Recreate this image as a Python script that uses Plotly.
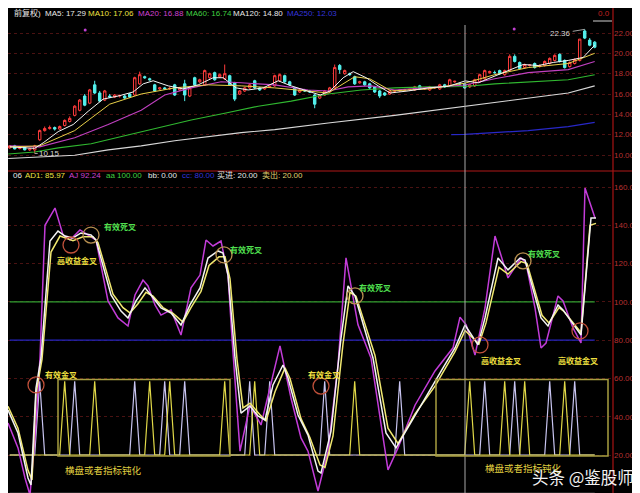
import plotly.graph_objects as go

# ---------------- price panel (bar index 0..117) ----------------
opens = [10.7, 10.9, 10.65, 10.8, 10.5, 10.5, 11.5, 12.4, 12.6, 12.7,
         12.55, 12.9, 13.3, 13.9, 14.4, 15.8, 15.1, 16.9, 16.1, 15.4,
         15.8, 15.7, 15.8, 15.8, 16.0, 15.9, 17.0, 17.7, 17.5, 16.9,
         16.5, 16.6, 16.5, 16.9, 16.4, 17.0, 15.8, 17.6, 17.2, 16.9,
         17.6, 18.1, 17.7, 17.5, 17.8, 17.1, 16.0, 16.3, 16.6, 17.3,
         16.6, 16.5, 16.7, 16.8, 17.3, 17.8, 17.2, 16.6, 16.2, 16.35,
         16.3, 15.9, 15.6, 15.9, 16.2, 16.6, 18.8, 18.0, 18.0, 17.7,
         17.1, 17.2, 17.0, 16.7, 16.3, 16.1, 16.0, 16.3, 16.3, 16.4,
         16.4, 16.4, 16.8, 16.5, 16.4, 16.6, 16.5, 16.9, 16.8, 17.2,
         17.0, 17.0, 16.7, 16.8, 17.2, 17.5, 18.1, 18.1, 18.3, 17.9,
         18.3, 19.7, 19.1, 18.6, 18.8, 19.0, 18.7, 18.8, 19.0, 19.3,
         19.9, 19.3, 18.7, 19.0, 19.3, 22.2, 21.3, 21.1]
highs = [10.95, 11.0, 10.8, 10.85, 10.7, 11.0, 12.5, 12.8, 12.9, 12.8,
         12.9, 13.5, 13.8, 14.9, 15.5, 16.0, 16.5, 17.3, 16.3, 16.4,
         16.0, 16.0, 15.95, 15.9, 16.1, 17.7, 18.2, 17.8, 17.6, 17.0,
         16.7, 16.7, 16.7, 17.0, 16.7, 17.4, 16.7, 17.7, 17.5, 18.4,
         18.1, 18.2, 18.0, 18.9, 17.9, 17.2, 16.4, 16.7, 17.0, 17.4,
         16.7, 16.7, 16.8, 17.9, 18.0, 17.9, 17.3, 16.7, 16.5, 16.5,
         16.4, 16.0, 16.0, 16.4, 16.7, 18.9, 18.95, 18.4, 18.1, 17.8,
         17.3, 17.3, 17.1, 16.8, 16.4, 16.2, 16.4, 16.4, 16.5, 16.5,
         16.5, 16.8, 16.9, 16.6, 16.8, 16.7, 17.0, 17.0, 17.5, 17.3,
         17.1, 17.1, 17.0, 17.5, 18.0, 18.4, 18.3, 18.3, 18.4, 18.4,
         19.9, 19.9, 19.2, 19.0, 18.9, 19.1, 18.9, 19.3, 19.6, 19.9,
         20.0, 19.4, 19.2, 19.5, 21.4, 22.36, 21.5, 21.2]
lows = [10.6, 10.55, 10.55, 10.45, 10.4, 10.15, 11.4, 12.3, 12.5, 12.4,
        12.5, 12.8, 13.2, 13.8, 14.3, 14.8, 15.0, 16.0, 15.2, 15.3,
        15.6, 15.6, 15.65, 15.5, 15.6, 15.8, 16.9, 17.5, 17.3, 16.2,
        16.4, 16.4, 16.4, 15.8, 16.3, 15.3, 15.7, 16.8, 17.1, 16.8,
        17.5, 17.3, 17.6, 17.4, 16.8, 15.3, 15.9, 16.2, 16.5, 16.5,
        16.3, 16.4, 16.6, 16.7, 17.2, 17.1, 16.8, 15.8, 16.1, 16.2,
        16.1, 14.6, 15.5, 15.8, 16.1, 16.5, 18.0, 17.9, 17.8, 16.9,
        17.0, 16.8, 16.5, 16.1, 15.6, 15.8, 15.9, 16.2, 16.2, 16.3,
        16.3, 16.3, 16.4, 16.4, 16.3, 16.5, 16.4, 16.6, 16.7, 17.1,
        16.9, 16.5, 16.6, 16.7, 17.1, 17.4, 18.0, 18.0, 17.9, 17.8,
        18.2, 19.1, 18.4, 18.5, 18.7, 18.5, 18.6, 18.7, 18.9, 19.2,
        19.1, 18.5, 18.6, 18.9, 19.2, 21.4, 20.7, 20.5]
closes = [10.9, 10.6, 10.7, 10.5, 10.6, 10.9, 12.4, 12.6, 12.7, 12.55,
          12.8, 13.4, 13.6, 14.8, 15.4, 14.9, 16.4, 16.1, 15.3, 16.3,
          15.7, 15.9, 15.85, 15.6, 15.7, 17.6, 17.9, 17.6, 17.4, 16.3,
          16.6, 16.5, 16.55, 15.9, 16.6, 15.9, 16.6, 16.9, 17.4, 18.3,
          18.0, 17.4, 17.9, 18.0, 16.9, 15.5, 16.3, 16.6, 16.9, 16.6,
          16.4, 16.6, 16.75, 17.8, 17.9, 17.2, 16.9, 15.9, 16.4, 16.3,
          16.2, 15.0, 15.9, 16.3, 16.6, 18.6, 18.4, 18.3, 17.9, 17.0,
          17.2, 16.9, 16.6, 16.2, 15.8, 15.9, 16.3, 16.3, 16.4, 16.4,
          16.45, 16.7, 16.5, 16.55, 16.7, 16.65, 16.9, 16.7, 17.4, 17.25,
          17.0, 16.6, 16.9, 17.4, 17.9, 18.3, 18.2, 18.1, 18.0, 18.3,
          19.7, 19.2, 18.5, 18.9, 18.85, 18.6, 18.8, 19.2, 19.5, 19.8,
          19.2, 18.6, 19.1, 19.4, 21.4, 21.5, 20.8, 20.6]

ma5_x = [0, 5, 6.7, 9.7, 12.7, 15.7, 18.7, 21.7, 24.7, 26.7, 28.7, 31.7, 34.7, 37.7,
         40.7, 42.7, 45.3, 47.7, 50.7, 53.7, 56.3, 59.7, 62.1, 64.1, 66.7, 68.7, 71.3,
         73.7, 76.1, 79.7, 83.7, 87.7, 91.1, 93.7, 97.7, 100.7, 102.7, 105.7, 108.7,
         111.7, 114.7, 117]
ma5_vals = [10.8, 10.65, 11.2, 12.3, 13.0, 14.3, 15.5, 15.8, 16.2, 17.0, 17.3, 16.8, 16.5,
            16.9, 17.6, 17.6, 16.6, 16.4, 16.6, 17.3, 16.8, 16.3, 15.9, 16.3, 17.6, 18.2,
            17.6, 16.8, 16.1, 16.3, 16.6, 16.75, 17.29, 17.1, 17.9, 18.5, 18.9, 18.8,
            19.1, 19.3, 19.6, 20.8]
ma10_x = [0, 6, 13, 20, 26.3, 33, 39.7, 46.3, 53, 59.7, 63.7, 69, 72, 76.3, 83.7, 91,
          97, 103.7, 111.7, 117]
ma10_vals = [10.8, 10.9, 12.4, 15.0, 16.0, 16.6, 16.9, 16.8, 16.6, 16.3, 16.1, 17.7, 17.5,
             16.3, 16.5, 17.06, 17.9, 18.6, 19.0, 20.0]
ma20_x = [0, 6, 13, 19.7, 26.3, 31, 36.3, 42.3, 46.3, 53, 59.7, 63.7, 67.7, 72.3, 77,
          83.7, 91, 97, 103.7, 111.7, 117]
ma20_vals = [10.9, 10.8, 11.7, 13.0, 14.4, 15.9, 16.6, 17.2, 17.1, 16.9, 16.4, 16.3, 16.7,
             16.8, 16.4, 16.6, 16.88, 17.5, 18.1, 18.4, 19.2]
ma60_x = [-0.3, 5, 9.7, 16.3, 23, 29.7, 36.3, 43, 49.7, 56.3, 63.7, 70.3, 77, 83.7, 91,
          97, 103.7, 111.7, 117]
ma60_vals = [10.1, 10.3, 10.7, 11.1, 11.9, 12.65, 13.45, 14.1, 14.8, 15.3, 16.0, 16.4, 16.6,
             16.7, 16.74, 17.0, 17.2, 17.4, 17.9]
ma120_x = [-0.3, 13, 19.7, 26.3, 33, 39.7, 46.3, 53, 59.7, 63.7, 77, 91, 103.7, 111.7, 117]
ma120_vals = [9.65, 9.97, 10.5, 10.9, 11.4, 11.8, 12.2, 12.5, 12.95, 13.15, 13.9, 14.8,
              15.6, 16.1, 16.8]
ma250_x = [88.3, 91, 103.7, 111.7, 117]
ma250_vals = [12.0, 12.03, 12.4, 12.8, 13.2]

top_dots_x = [15.1, 100.9]
top_dots_vals = [22.3, 22.4]

# ---------------- indicator panel ----------------
k_x = [-0.34, 1.66, 3.66, 4.26, 5.26, 6.26, 8.06, 9.66, 11.06, 12.66, 14.26, 16.26, 17.26,
       20.26, 22.26, 23.66, 25.26, 27.06, 28.26, 30.26, 32.26, 34.26, 36.06, 38.06, 39.66,
       41.66, 42.66, 43.66, 45.06, 46.26, 48.06, 49.66, 51.06, 52.66, 54.66, 55.66, 57.66,
       59.66, 61.66, 62.26, 64.26, 66.26, 67.66, 69.06, 72.66, 75.26, 77.26, 81.06, 83.06,
       85.06, 86.66, 89.06, 91.06, 93.66, 95.06, 97.66, 99.66, 102.06, 103.06, 106.26,
       107.66, 109.66, 110.66, 114.26, 116.26, 117.26]
k_vals = [43.5, 31.5, 8.0, 4.3, 55.0, 70.7, 131.8, 137.0, 134.4, 133.4, 136.0, 135.0, 132.3,
          103.6, 95.2, 91.6, 100.5, 107.3, 103.6, 96.8, 94.2, 87.9, 98.4, 107.3, 122.9,
          126.6, 125.5, 114.0, 70.7, 41.9, 45.6, 40.4, 38.3, 56.6, 67.0, 60.2, 40.9,
          30.4, 11.6, 10.6, 32.5, 81.1, 108.3, 103.1, 70.7, 31.5, 23.7, 40.9, 49.8,
          58.7, 65.5, 75.9, 87.9, 77.5, 91.6, 122.9, 116.7, 122.9, 121.9, 91.6,
          87.4, 98.4, 95.8, 82.7, 143.8, 143.8]
d_x = [-0.34, 1.66, 3.66, 4.46, 5.26, 6.46, 8.26, 10.06, 12.66, 14.66, 16.66, 17.66, 20.66,
       22.66, 24.06, 25.66, 27.26, 28.66, 30.66, 32.66, 34.66, 36.26, 38.26, 39.86, 41.86,
       43.06, 44.06, 45.46, 46.66, 48.06, 50.06, 51.26, 53.06, 55.06, 56.06, 58.26, 60.06,
       62.06, 63.06, 64.66, 66.66, 68.06, 69.26, 73.06, 75.66, 77.66, 81.06, 85.06, 89.06,
       91.06, 93.86, 95.26, 97.86, 99.66, 102.26, 103.46, 106.46, 107.86, 109.86, 110.86,
       114.26, 116.06, 117.26]
d_vals = [45.5, 34.0, 12.0, 7.0, 52.0, 70.0, 126.0, 134.4, 132.0, 134.0, 134.0, 131.0, 104.0,
          97.0, 94.2, 99.0, 105.0, 103.0, 97.0, 94.0, 89.5, 97.0, 105.5, 119.0, 123.5,
          123.5, 112.0, 70.0, 44.6, 47.0, 41.0, 37.8, 53.0, 65.5, 60.0, 39.0, 29.0,
          14.8, 13.5, 30.0, 78.0, 105.0, 103.0, 72.0, 34.0, 26.0, 41.5, 56.0, 74.0,
          85.0, 78.0, 89.0, 118.0, 114.5, 121.0, 120.0, 93.0, 89.0, 97.0, 95.0,
          84.0, 140.0, 141.0]
j_x = [-0.34, 1.66, 3.06, 4.06, 5.06, 6.06, 7.06, 9.06, 10.66, 12.06, 14.06, 15.66, 17.26,
       19.66, 21.66, 23.66, 25.06, 26.66, 27.66, 29.06, 30.26, 32.26, 34.26, 36.26, 38.06,
       39.26, 40.66, 42.26, 43.66, 44.46, 46.06, 48.06, 50.26, 54.06, 56.26, 58.26, 59.66,
       61.66, 63.66, 65.66, 67.26, 69.66, 72.26, 75.66, 77.66, 81.06, 85.06, 88.66, 90.06,
       91.3, 93.06, 95.06, 97.06, 99.66, 102.26, 103.26, 105.06, 106.26, 107.26, 109.66,
       110.66, 112.66, 114.26, 115.06, 117.06]
j_vals = [36.7, 23.7, 8.0, -0.9, 28.9, 70.7, 140.0, 149.0, 135.0, 132.3, 137.6, 135.0, 132.3,
          100.5, 91.6, 87.4, 103.6, 111.4, 108.3, 98.4, 93.1, 95.8, 82.7, 107.3, 114.0,
          132.3, 129.2, 131.8, 114.0, 81.0, 22.0, 46.0, 35.7, 77.0, 49.8, 28.9, 22.0,
          1.2, 22.0, 67.0, 123.0, 88.0, 70.7, 12.2, 23.7, 46.0, 63.9, 76.0, 92.0,
          88.0, 72.2, 96.8, 134.4, 112.5, 122.9, 120.3, 96.8, 75.9, 78.5, 103.1,
          100.5, 86.4, 78.5, 159.5, 143.8]

buy_bars = [11, 17, 28, 32, 43, 49, 69, 92, 99, 103, 111]
sell_bars = [6, 13, 25, 31, 35, 48, 52, 63, 78, 95, 101, 108, 113]
signal_base = 20.0
signal_peak = 58.5
aa_level = 100.0
cc_level = 80.0
bb_level = 0.0

price_ticks = [10, 12, 14, 16, 18, 20, 22]
price_tick_text = ["10.00", "12.00", "14.00", "16.00", "18.00", "20.00", "22.00"]
ind_ticks = [20, 40, 60, 80, 100, 120, 140, 160]
ind_tick_text = ["20.00", "40.00", "60.00", "80.00", "100.0", "120.0", "140.0", "160.0"]

# ---------------- figure ----------------
N = len(closes)
bars = list(range(N))
W, H, R = 640, 493, 35
PW = W - R


def px(x):
    return x / PW


def py(y):
    return 1 - y / H


FONT = "Liberation Sans, Arial, Noto Sans CJK SC, sans-serif"
CJK = "Noto Sans CJK SC, sans-serif"
WHITE, YELLOW, MAGENTA, GREEN, BLUE = "#e8e8e8", "#f0e040", "#d040d0", "#40d040", "#3434d8"

fig = go.Figure()
fig.add_trace(go.Candlestick(
    x=bars, open=opens, high=highs, low=lows, close=closes, xaxis="x", yaxis="y",
    increasing=dict(line=dict(color="#ff3c3c", width=1), fillcolor="#000000"),
    decreasing=dict(line=dict(color="#54f0ec", width=1), fillcolor="#54f0ec"),
    whiskerwidth=0, hoverinfo="skip", showlegend=False))

for xs, ys, col, wd in [(ma250_x, ma250_vals, "#2828c8", 1.2),
                        (ma120_x, ma120_vals, "#d8d8d8", 1.1),
                        (ma60_x, ma60_vals, "#30b830", 1.1),
                        (ma20_x, ma20_vals, "#c040c0", 1.1),
                        (ma10_x, ma10_vals, "#e8d048", 1.0),
                        (ma5_x, ma5_vals, "#f4f4f4", 1.0)]:
    fig.add_trace(go.Scatter(x=xs, y=ys, mode="lines", line=dict(color=col, width=wd),
                             xaxis="x", yaxis="y", hoverinfo="skip", showlegend=False))
fig.add_trace(go.Scatter(x=top_dots_x, y=top_dots_vals, mode="markers",
                         marker=dict(color="#c040d0", size=3), xaxis="x", yaxis="y",
                         hoverinfo="skip", showlegend=False))

# reference levels
for lvl, col, wd in [(aa_level, "#30a030", 1.1), (cc_level, "#2424c0", 1.1), (bb_level, "#8c8c8c", 1.1)]:
    fig.add_trace(go.Scatter(x=bars, y=[lvl] * N, mode="lines", line=dict(color=col, width=wd),
                             xaxis="x", yaxis="y2", hoverinfo="skip", showlegend=False))

# signal spikes
sell_y = [signal_peak if i in sell_bars else signal_base for i in bars]
buy_y = [signal_peak if i in buy_bars else signal_base for i in bars]
fig.add_trace(go.Scatter(x=bars, y=sell_y, mode="lines", line=dict(color="#c8c4f0", width=1.2),
                         xaxis="x", yaxis="y2", hoverinfo="skip", showlegend=False))
fig.add_trace(go.Scatter(x=bars, y=buy_y, mode="lines", line=dict(color="#e0d848", width=1.2),
                         xaxis="x", yaxis="y2", hoverinfo="skip", showlegend=False))

# KDJ-style lines
for xs, ys, col in [(j_x, j_vals, "#c23cd8"), (d_x, d_vals, "#f0e870"), (k_x, k_vals, "#f4f4f4")]:
    fig.add_trace(go.Scatter(x=xs, y=ys, mode="lines", line=dict(color=col, width=1.5),
                             xaxis="x", yaxis="y2", hoverinfo="skip", showlegend=False))

shapes = []
# separators
shapes.append(dict(type="line", xref="paper", yref="paper", x0=0, x1=W / PW, y0=py(163), y1=py(163),
                   line=dict(color="#b01818", width=1.2)))
shapes.append(dict(type="line", xref="paper", yref="paper", x0=1, x1=1, y0=0, y1=1,
                   line=dict(color="#a81414", width=1.2)))
shapes.append(dict(type="line", xref="paper", yref="paper", x0=px(638), x1=px(638), y0=0, y1=1,
                   line=dict(color="#a81414", width=1.2)))
shapes.append(dict(type="line", xref="paper", yref="paper", x0=px(585), x1=px(604), y0=py(13), y1=py(13),
                   line=dict(color="#d0d0d0", width=1)))
# cursor
shapes.append(dict(type="line", xref="x", yref="paper", x0=91.06, x1=91.06, y0=0, y1=py(17),
                   line=dict(color="#a8a8a8", width=1)))
# consolidation boxes
for bx0, bx1 in [(9.66, 44.06), (85.26, 119.66)]:
    shapes.append(dict(type="rect", xref="x", yref="y2", x0=bx0, x1=bx1, y0=19.5, y1=59.5,
                       line=dict(color="#a89e40", width=1.5)))
# crossing circles
golden = [(5.26, 56.6), (12.26, 129.7), (62.26, 56.0), (94.06, 77.5), (114.06, 84.8)]
death = [(16.26, 134.9), (42.86, 124.5), (69.06, 103.1), (102.66, 121.4)]
for pts, col in [(golden, "#c0503a"), (death, "#b89050")]:
    for cx, cy in pts:
        shapes.append(dict(type="circle", xref="x", yref="y2", xsizemode="pixel", ysizemode="pixel",
                           xanchor=cx, yanchor=cy, x0=-8, x1=8, y0=-8, y1=8,
                           line=dict(color=col, width=1.3)))

ann = []


def txt(xp, yp, s, col, size=8, anchor="left", bold=False, fam=FONT):
    ann.append(dict(xref="paper", yref="paper", x=px(xp), y=py(yp), text=("<b>%s</b>" % s) if bold else s,
                    showarrow=False, xanchor=anchor, yanchor="middle",
                    font=dict(color=col, size=size, family=fam)))


# header rows
for xp, s, col in [(4, "前复权)", WHITE), (35, "MA5: 17.29", WHITE), (78, "MA10: 17.06", YELLOW),
                   (128, "MA20: 16.88", MAGENTA), (176, "MA60: 16.74", GREEN),
                   (223, "MA120: 14.80", WHITE), (277, "MA250: 12.03", BLUE)]:
    txt(xp, 5, s, col)
for xp, s, col in [(3, "06", WHITE), (15, "AD1: 85.97", YELLOW), (59, "AJ 92.24", MAGENTA),
                   (96, "aa 100.00", GREEN), (138, "bb: 0.00", WHITE), (172, "cc: 80.00", BLUE),
                   (207, "买进: 20.00", WHITE), (252, "卖出: 20.00", "#e0d070")]:
    txt(xp, 167, s, col)
txt(596, 5, "0.0", "#c02020", size=8, anchor="center")

# price extremes
ann.append(dict(xref="x", yref="y", x=115, y=22.36, text="22.36", showarrow=True, ax=-24, ay=4,
                arrowhead=0, arrowwidth=0.8, arrowcolor="#c8c8c8", font=dict(color="#d8d8d8", size=8, family=FONT)))
ann.append(dict(xref="x", yref="y", x=5, y=10.15, text="10.15", showarrow=True, ax=15, ay=0,
                arrowhead=0, arrowwidth=0.8, arrowcolor="#c8c8c8", font=dict(color="#d8d8d8", size=8, family=FONT)))

# signal labels
for lx, ly, s, col in [(22.06, 139.6, "有效死叉", "#50e050"), (47.26, 127.6, "有效死叉", "#50e050"),
                       (73.06, 107.3, "有效死叉", "#50e050"), (106.86, 125.5, "有效死叉", "#50e050"),
                       (10.16, 61.8, "有效金叉", "#f0e040"), (62.86, 61.8, "有效金叉", "#f0e040"),
                       (13.46, 121.4, "高收益金叉", "#f0e040"), (98.26, 69.6, "高收益金叉", "#f0e040"),
                       (113.66, 69.6, "高收益金叉", "#f0e040"),
                       (18.66, 12.2, "横盘或者指标钝化", "#e0d040"), (102.66, 13.2, "横盘或者指标钝化", "#e0d040")]:
    big = len(s) == 8
    ann.append(dict(xref="x", yref="y2", x=lx, y=ly, text=s if big else "<b>%s</b>" % s, showarrow=False,
                    xanchor="center", yanchor="middle",
                    font=dict(color=col, size=9.5 if big else 8, family=CJK)))

# watermark
txt(575, 469, "头条 @鉴股师", "#f2f2f2", size=16.5, anchor="center", fam=CJK)

axis_common = dict(side="right", anchor="x", showline=False, zeroline=False, ticks="",
                   showgrid=True, gridcolor="#4a1212", griddash="dot", gridwidth=1,
                   tickfont=dict(color="#b83030", size=8, family=FONT), ticklabelstandoff=0)

fig.update_layout(
    width=W, height=H, margin=dict(l=0, r=R, t=0, b=0),
    paper_bgcolor="#000000", plot_bgcolor="#000000", showlegend=False,
    font=dict(family=FONT),
    xaxis=dict(range=[-0.34, 120.66], visible=False, rangeslider=dict(visible=False), anchor="y2",
               fixedrange=True),
    yaxis=dict(domain=[py(163), 1], range=[8.426, 24.459], tickvals=price_ticks,
               ticktext=price_tick_text, **axis_common),
    yaxis2=dict(domain=[0, py(163)], range=[-4.03, 168.36], tickvals=ind_ticks,
                ticktext=ind_tick_text, **axis_common),
    shapes=shapes, annotations=ann,
)

fig.write_html("out.html")
